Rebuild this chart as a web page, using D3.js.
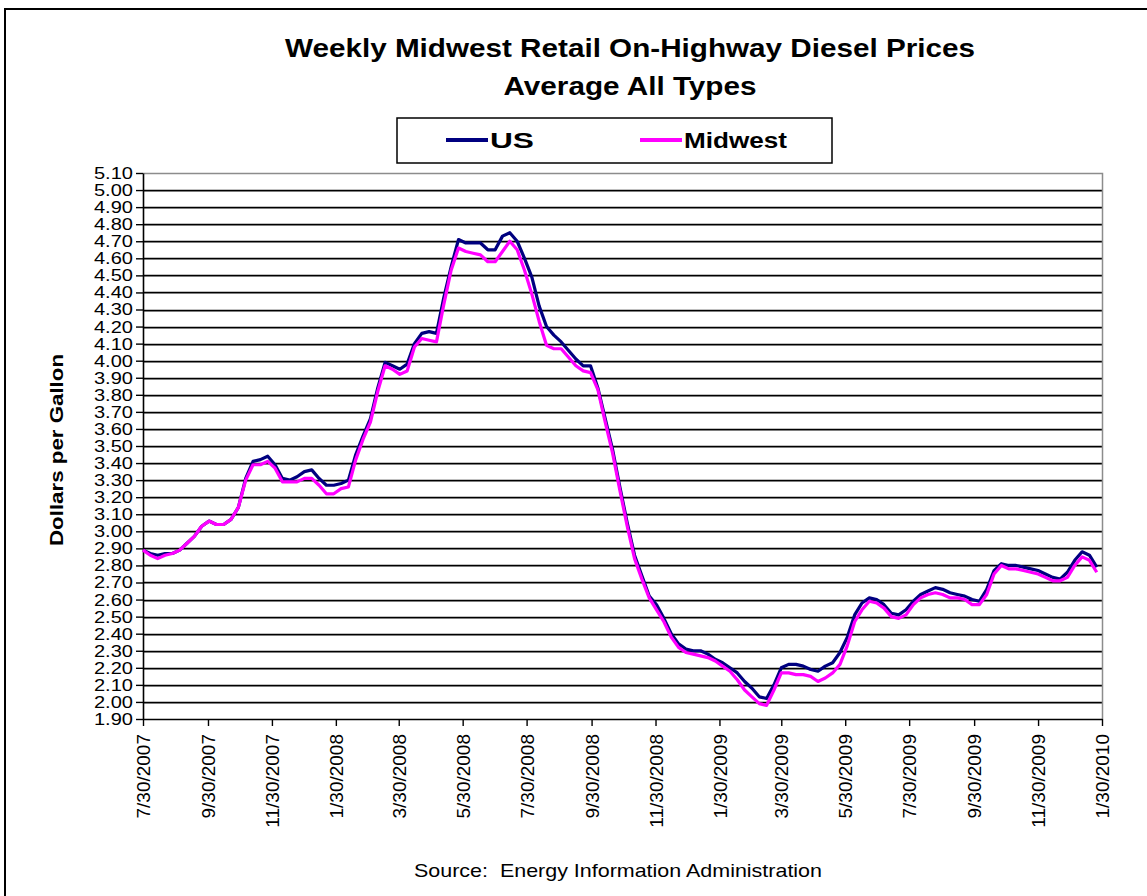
<!DOCTYPE html>
<html><head><meta charset="utf-8">
<script src="https://cdn.jsdelivr.net/npm/d3@7"></script>
<style>
body{margin:0;background:#fff;}
text{font-family:"Liberation Sans",Arial,sans-serif;fill:#000;}
</style>
</head><body>
<svg id="chart" width="1147" height="896"></svg>
<script>
// ---------- data ----------
const startDate = "7/30/2007";          // first weekly observation (Mondays)
const usPrices = [
 2.89,2.87,2.86,2.87,2.87,2.89,2.93,2.97,3.03,3.06,
 3.04,3.04,3.07,3.14,3.31,3.41,3.42,3.44,3.39,3.31,
 3.30,3.32,3.35,3.36,3.31,3.27,3.27,3.28,3.30,3.45,
 3.56,3.66,3.84,3.99,3.97,3.95,3.98,4.10,4.16,4.17,
 4.16,4.37,4.55,4.71,4.69,4.69,4.69,4.65,4.65,4.73,
 4.75,4.70,4.60,4.49,4.32,4.20,4.15,4.11,4.06,4.01,
 3.97,3.97,3.84,3.66,3.48,3.26,3.05,2.86,2.74,2.62,
 2.57,2.49,2.40,2.34,2.31,2.30,2.30,2.28,2.25,2.23,
 2.20,2.17,2.12,2.08,2.03,2.02,2.10,2.20,2.22,2.22,
 2.21,2.19,2.18,2.21,2.23,2.29,2.38,2.51,2.58,2.61,
 2.60,2.57,2.52,2.51,2.54,2.59,2.63,2.65,2.67,2.66,
 2.64,2.63,2.62,2.60,2.59,2.66,2.77,2.81,2.80,2.80,
 2.79,2.78,2.77,2.75,2.73,2.72,2.76,2.83,2.88,2.86,
 2.79
];
const midwestPrices = [
 2.89,2.86,2.84,2.86,2.87,2.89,2.93,2.97,3.03,3.06,
 3.04,3.04,3.07,3.14,3.30,3.39,3.39,3.41,3.37,3.29,
 3.29,3.29,3.31,3.31,3.27,3.22,3.22,3.25,3.26,3.42,
 3.54,3.64,3.82,3.97,3.95,3.92,3.94,4.08,4.13,4.12,
 4.11,4.33,4.53,4.66,4.64,4.63,4.62,4.58,4.58,4.64,
 4.70,4.65,4.53,4.39,4.23,4.09,4.07,4.07,4.02,3.97,
 3.94,3.93,3.83,3.64,3.46,3.24,3.03,2.84,2.72,2.61,
 2.54,2.47,2.38,2.32,2.29,2.28,2.27,2.26,2.24,2.21,
 2.18,2.13,2.07,2.03,1.99,1.98,2.07,2.17,2.17,2.16,
 2.16,2.15,2.12,2.14,2.17,2.22,2.33,2.47,2.54,2.59,
 2.58,2.55,2.50,2.49,2.51,2.57,2.61,2.63,2.64,2.63,
 2.61,2.61,2.60,2.57,2.57,2.63,2.75,2.80,2.78,2.78,
 2.77,2.76,2.75,2.73,2.71,2.71,2.73,2.80,2.85,2.83,
 2.76
];
const seriesNames = ["US","Midwest"];
const seriesColors = ["#000080","#FF00FF"];
const yTickLabels = ["1.90","2.00","2.10","2.20","2.30","2.40","2.50","2.60","2.70","2.80",
 "2.90","3.00","3.10","3.20","3.30","3.40","3.50","3.60","3.70","3.80","3.90","4.00",
 "4.10","4.20","4.30","4.40","4.50","4.60","4.70","4.80","4.90","5.00","5.10"];
const xTickLabels = ["7/30/2007","9/30/2007","11/30/2007","1/30/2008","3/30/2008","5/30/2008",
 "7/30/2008","9/30/2008","11/30/2008","1/30/2009","3/30/2009","5/30/2009","7/30/2009",
 "9/30/2009","11/30/2009","1/30/2010"];
const titleLines = ["Weekly Midwest Retail On-Highway Diesel Prices","Average All Types"];
const yAxisTitle = "Dollars per Gallon";
const sourceText = "Source:  Energy Information Administration";

// ---------- setup ----------
const parse = d3.utcParse("%m/%d/%Y");
const start = parse(startDate);
const weeks = usPrices.map((_, i) => d3.utcDay.offset(start, 7 * i));
const xTickDates = xTickLabels.map(parse);
const yTickVals = yTickLabels.map(Number);

const svg = d3.select("#chart");
const plot = {left:143, right:1102, top:173, bottom:719};

const x = d3.scaleUtc().domain([xTickDates[0], xTickDates[xTickDates.length-1]]).range([plot.left, plot.right]);
const y = d3.scaleLinear().domain([yTickVals[0], yTickVals[yTickVals.length-1]]).range([plot.bottom, plot.top]);

// outer frame
svg.append("rect").attr("x",5).attr("y",9).attr("width",1300).attr("height",1000)
  .attr("fill","#fff").attr("stroke","#000").attr("stroke-width",2);

// titles
const titleWidths = [690, 253];
titleLines.forEach((t, i) => {
  svg.append("text").attr("x", 630).attr("y", 57 + i*38)
    .attr("text-anchor","middle").attr("font-size",25).attr("font-weight","bold")
    .attr("textLength", titleWidths[i]).attr("lengthAdjust","spacingAndGlyphs")
    .text(t);
});

// legend
const lg = svg.append("g");
lg.append("rect").attr("x",397).attr("y",118).attr("width",435).attr("height",45)
  .attr("fill","#fff").attr("stroke","#000").attr("stroke-width",1.5);
const legendX = [446, 640];
const legendW = [44, 103];
seriesNames.forEach((n, i) => {
  lg.append("line").attr("x1",legendX[i]).attr("x2",legendX[i]+42).attr("y1",140).attr("y2",140)
    .attr("stroke",seriesColors[i]).attr("stroke-width",4);
  lg.append("text").attr("x",legendX[i]+44).attr("y",148).attr("font-size",22).attr("font-weight","bold")
    .attr("textLength",legendW[i]).attr("lengthAdjust","spacingAndGlyphs").text(n);
});

// gridlines
const grid = svg.append("g");
yTickVals.slice(1, -1).forEach(v => {
  const yy = Math.round(y(v));
  grid.append("line").attr("x1",plot.left).attr("x2",plot.right).attr("y1",yy+1.5).attr("y2",yy+1.5)
    .attr("stroke","#a8a8a8").attr("stroke-width",1);
  grid.append("line").attr("x1",plot.left).attr("x2",plot.right).attr("y1",yy+0.5).attr("y2",yy+0.5)
    .attr("stroke","#000").attr("stroke-width",1.4);
});
// plot border (top/right gray)
svg.append("path")
  .attr("d",`M${plot.left},${plot.top+0.5}H${plot.right+0.5}V${plot.bottom}`)
  .attr("fill","none").attr("stroke","#8c8c8c").attr("stroke-width",1.5);

// y axis
const yAxis = d3.axisLeft(y).tickValues(yTickVals).tickFormat((d,i)=>yTickLabels[i]).tickSize(7).tickSizeOuter(0);
const gy = svg.append("g").attr("transform",`translate(${plot.left},0)`).call(yAxis);
gy.select(".domain").attr("stroke","#000").attr("stroke-width",1.6);
gy.selectAll(".tick line").attr("stroke","#000").attr("stroke-width",1.4);
gy.selectAll(".tick text").attr("font-size",17).attr("font-family","'Liberation Sans',Arial,sans-serif")
  .attr("x",-8.5).attr("transform","scale(1.18,1)").attr("fill","#000");

// x axis
const xAxis = d3.axisBottom(x).tickValues(xTickDates).tickFormat((d,i)=>xTickLabels[i]).tickSize(7).tickSizeOuter(0);
const gx = svg.append("g").attr("transform",`translate(0,${plot.bottom})`).call(xAxis);
gx.select(".domain").attr("stroke","#000").attr("stroke-width",1.6);
gx.selectAll(".tick line").attr("stroke","#000").attr("stroke-width",1.4);
gx.selectAll(".tick text").attr("font-size",19).attr("font-family","'Liberation Sans',Arial,sans-serif")
  .attr("fill","#000").attr("text-anchor","end")
  .attr("transform","rotate(-90)").attr("x",-15).attr("y",0).attr("dy","0.35em");

// y axis title
svg.append("text").attr("transform","translate(63,450) rotate(-90)")
  .attr("text-anchor","middle").attr("font-size",19).attr("font-weight","bold")
  .attr("textLength",192).attr("lengthAdjust","spacingAndGlyphs").text(yAxisTitle);

// source
svg.append("text").attr("x",618).attr("y",877).attr("text-anchor","middle").attr("font-size",19)
  .style("white-space","pre").attr("xml:space","preserve")
  .attr("textLength",408).attr("lengthAdjust","spacingAndGlyphs").text(sourceText);

// lines
const series = [usPrices, midwestPrices];
const line = d3.line().x((d,i)=>x(weeks[i])).y(d=>y(d));
series.forEach((s, k) => {
  svg.append("path").datum(s).attr("d", line).attr("fill","none")
    .attr("stroke", seriesColors[k]).attr("stroke-width",3.2).attr("stroke-linejoin","round");
});
</script>
</body></html>
